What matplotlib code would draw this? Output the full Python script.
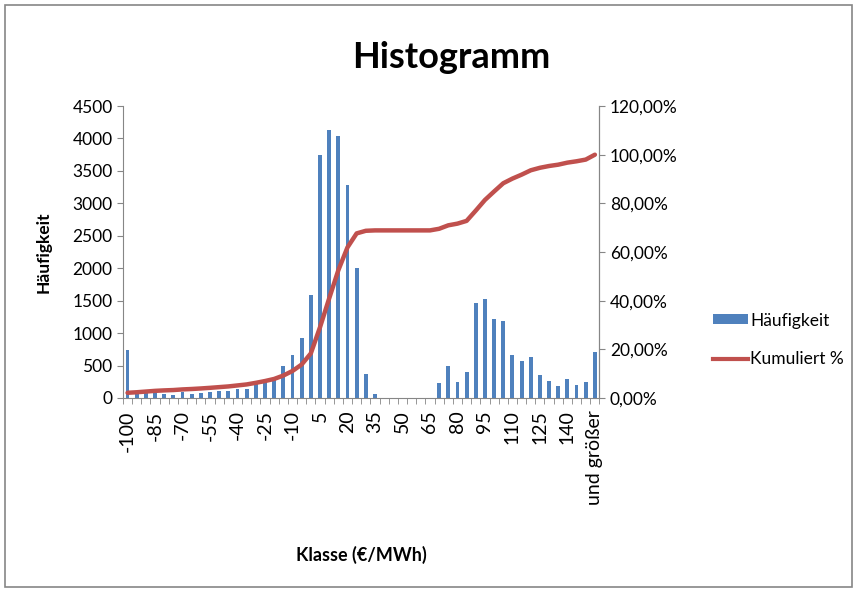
import matplotlib.pyplot as plt
import numpy as np
from matplotlib.patches import Patch, Rectangle
from matplotlib.lines import Line2D
from matplotlib.ticker import FuncFormatter

plt.rcParams['font.family'] = ['Lato', 'DejaVu Sans']

# class bins (EUR/MWh) and counts
klassen = [str(v) for v in range(-100, 151, 5)] + ['und größer']
haeufigkeit = [743, 77, 100, 100, 67, 50, 90, 60, 77, 90,
               100, 100, 143, 143, 230, 256, 300, 487, 656, 922,
               1589, 3741, 4126, 4038, 3280, 1999, 374, 56, 0, 0,
               0, 0, 0, 0, 230, 497, 241, 395, 1471, 1522,
               1215, 1179, 666, 564, 625, 359, 256, 190, 292, 195,
               241, 702]
kumuliert = np.cumsum(haeufigkeit) / np.sum(haeufigkeit)

blue = '#4F81BD'
red = '#C0504D'
grey = '#868686'

fig = plt.figure(figsize=(8.57, 5.91), dpi=100)
fig.patches.append(Rectangle((0.006, 0.006), 0.988, 0.985, transform=fig.transFigure,
                             fill=False, edgecolor=grey, linewidth=1.2))

ax = fig.add_axes([0.1435, 0.3266, 0.556, 0.494])
x = np.arange(len(klassen))
ax.bar(x, haeufigkeit, width=0.42, color=blue, label='Häufigkeit')
ax.set_xlim(-0.5, len(klassen) - 0.5)
ax.set_ylim(0, 4500)
ax.set_yticks(range(0, 4501, 500))

ax2 = ax.twinx()
ax2.plot(x, kumuliert, color=red, linewidth=3.2, solid_joinstyle='round',
         solid_capstyle='round', label='Kumuliert %')
ax2.set_ylim(0, 1.2)
ax2.set_yticks(np.arange(0, 1.21, 0.2))
ax2.yaxis.set_major_formatter(FuncFormatter(lambda v, p: f'{v*100:.2f}%'.replace('.', ',')))

# ticks at category boundaries, labels every third class
ax.set_xticks(np.arange(-0.5, len(klassen), 1.0), minor=True)
ax.set_xticks(x[::3])
ax.set_xticklabels(klassen[::3], rotation=90, fontsize=14)
ax.tick_params(axis='x', which='major', length=0, pad=9)
ax.tick_params(axis='x', which='minor', length=4, color=grey)

for a in (ax, ax2):
    a.spines['top'].set_visible(False)
    for s in ('left', 'right', 'bottom'):
        a.spines[s].set_color(grey)
    a.tick_params(axis='y', length=4, color=grey, labelsize=12.5)
ax2.spines['left'].set_visible(False)
ax2.spines['bottom'].set_visible(False)

ax.set_ylabel('Häufigkeit', fontsize=12.5, fontweight='bold', labelpad=15)
ax.set_xlabel('Klasse (€/MWh)', fontsize=13, fontweight='bold', labelpad=29)
fig.text(0.526, 0.902, 'Histogramm', ha='center', va='center', fontsize=26, fontweight='bold')

handles = [Patch(facecolor=blue, edgecolor='none'), Line2D([], [], color=red, linewidth=3)]
fig.legend(handles, ['Häufigkeit', 'Kumuliert %'], loc='center left',
           bbox_to_anchor=(0.832, 0.425), frameon=False, fontsize=12.5, borderpad=0,
           borderaxespad=0, handlelength=2.0, handleheight=0.5, handletextpad=0.15,
           labelspacing=1.3)

fig.savefig('out.png', dpi=100)
